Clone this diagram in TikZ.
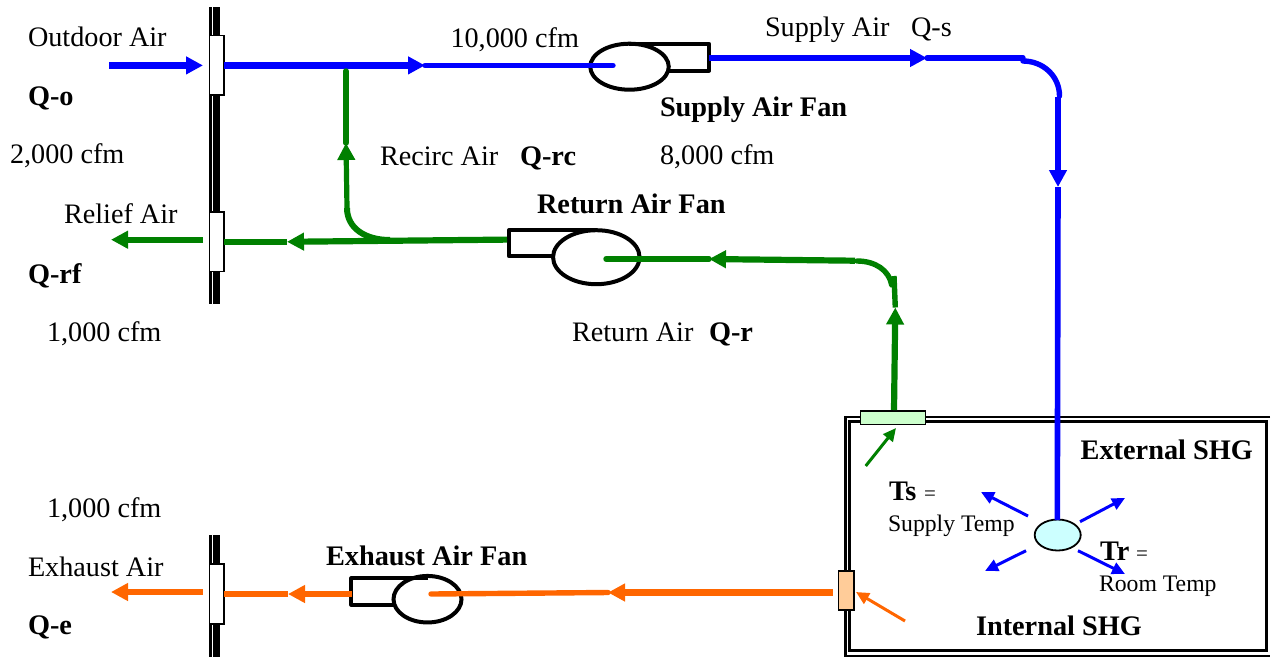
\documentclass[tikz,border=0pt]{standalone}
\usepackage{fontspec}
\setmainfont{Liberation Serif}
\usetikzlibrary{arrows.meta,shapes.geometric}
\definecolor{airblue}{HTML}{0000FF}
\definecolor{airgreen}{HTML}{008000}
\definecolor{airorange}{HTML}{FF6600}
\definecolor{dampgreen}{HTML}{CCFFCC}
\definecolor{damporange}{HTML}{FFCC99}
\definecolor{diffuser}{HTML}{CCFFFF}
\tikzset{
  lbl/.style={anchor=base west,inner sep=0,outer sep=0,font=\fontsize{28.2}{30}\selectfont},
  blbl/.style={lbl,font=\fontsize{28.3}{30}\selectfont\bfseries},
  slbl/.style={lbl,font=\fontsize{23.7}{26}\selectfont},
  eqlbl/.style={lbl,font=\fontsize{21}{24}\selectfont},
  damper/.style={draw=black,line width=1.6pt,fill=white,rectangle,inner sep=0,outer sep=0,minimum width=14.5pt,minimum height=59.5pt},
  fan/.style={draw=black,line width=4pt,ellipse,inner sep=0,outer sep=0},
  fanbox/.style={draw=black,line width=4pt,line join=round},
  thin duct/.style={line width=5.4pt,line cap=round},
  flow/.style={line width=6.2pt,-{Triangle[length=17pt,width=17pt]}},
  spread/.style={line width=3pt,-{Triangle[length=13pt,width=12pt]}},
}
\begin{document}
\begin{tikzpicture}[x=1pt,y=-1pt]
\useasboundingbox (0,0) rectangle (1276,657);
% walls
\draw[line width=2.6pt] (210.6,7) -- (210.6,304);
\draw[line width=6.7pt] (216.6,7) -- (216.6,304);
\draw[line width=2.6pt] (210.6,535) -- (210.6,657);
\draw[line width=6.7pt] (216.6,535) -- (216.6,657);
% room
\draw[line width=2.2pt] (1270,417.3) -- (845.5,417.3) -- (845.5,656) -- (1270,656);
\draw[line width=3.3pt] (849.5,421.5) rectangle (1266.7,650.8);
% dampers
\node[damper] (dO) at (216.7,65.4) {};
\node[damper] (dR) at (216.7,241.7) {};
\node[damper] (dE) at (216.7,594) {};
\node[damper,fill=dampgreen,minimum width=65pt,minimum height=13.5pt] (dG) at (893,417.8) {};
\node[damper,fill=damporange,minimum width=15.5pt,minimum height=38.5pt] (dX) at (846.2,590.5) {};
% fans
\node[fan,minimum width=78.5pt,minimum height=46pt] (fS) at (629.5,66.7) {};
\node[fan,minimum width=86.5pt,minimum height=54pt] (fR) at (596.3,257.2) {};
\node[fan,minimum width=68pt,minimum height=46.5pt] (fE) at (427.5,599.2) {};
\draw[fanbox] (629,43.8) -- (709,43.8) -- (709,70.6) -- (669,70.6);
\draw[fanbox] (596,230.2) -- (509,230.2) -- (509,256.2) -- (553,256.2);
\draw[fanbox] (428,578.2) -- (351.4,578.2) -- (351.4,604.6) -- (394,604.6);
% diffuser
\node[draw=black,line width=1.8pt,fill=diffuser,ellipse,inner sep=0,outer sep=0,minimum width=46pt,minimum height=31pt] (diff) at (1057.7,535) {};
% named points
\coordinate (oa) at (109,65.4);
\coordinate (oatip) at (203,65.4);
\coordinate (j1) at (425,65.4);
\coordinate (fSc) at (613,65.4);
\coordinate (s0) at (709,58);
\coordinate (s1) at (927,58);
\coordinate (s2) at (1023,58);
\coordinate (s3) at (1023,61);
\coordinate (s4) at (1059.5,96);
\coordinate (s5) at (1058,97);
\coordinate (s6) at (1058,187);
\coordinate (s7) at (1057.3,520);
\coordinate (rc0) at (346,71);
\coordinate (rc1) at (346,143);
\coordinate (rc2) at (347,208);
\coordinate (rc3) at (390,240);
\coordinate (rfa) at (507,239.6);
\coordinate (rfb) at (287,241.8);
\coordinate (rl0) at (203,239.7);
\coordinate (rl1) at (111,239.7);
\coordinate (ru0) at (894,410);
\coordinate (ru0b) at (895.3,323);
\coordinate (ru1) at (895.3,307.5);
\coordinate (ru2) at (894,276);
\coordinate (ru3) at (857,261);
\coordinate (ru4) at (855,260.7);
\coordinate (ru5) at (709,259);
\coordinate (fRc) at (606,259);
\coordinate (ex0) at (833,592.5);
\coordinate (ex1) at (608,592.5);
\coordinate (fEc) at (431,594);
\coordinate (ex2) at (352,594);
\coordinate (ex3) at (288,594);
\coordinate (el0) at (203,592);
\coordinate (el1) at (111,592);
% supply side
\draw[airblue,flow] (oa) -- (oatip);
\draw[airblue,flow] (dO.east) -- (j1);
\draw[airblue,thin duct] (j1) -- (fSc);
\draw[airblue,flow] (s0) -- (s1);
\draw[airblue,thin duct] (s1) -- (s2);
\draw[airblue,thin duct] (s3) .. controls (1043,61) and (1059.5,76) .. (s4);
\draw[airblue,flow] (s5) -- (s6);
\draw[airblue,line width=5.6pt] (s6) -- (s7);
% recirc
\draw[airgreen,thin duct] (rc0) -- (rc1);
\draw[airgreen,flow,line width=5.2pt] (rc2) -- (rc1);
\draw[airgreen,line width=6pt] (rc2) .. controls (347,228) and (365,240) .. (rc3);
% return
\draw[airgreen,flow] (rfa) -- (rfb);
\draw[airgreen,line width=5.6pt] (rfb) -- (dR.east |- rfb);
\draw[airgreen,flow] (rl0) -- (rl1);
\draw[airgreen,flow] (ru0) -- (ru1);
\draw[airgreen,line width=5.4pt] (ru1) -- (ru2);
\draw[airgreen,line width=5.4pt,line cap=round] (891.7,285) .. controls (889,270) and (875,261) .. (ru3);
\draw[airgreen,flow] (ru4) -- (ru5);
\draw[airgreen,thin duct] (ru5) -- (fRc);
% exhaust
\draw[airorange,flow] (ex0) -- (ex1);
\draw[airorange,thin duct] (ex1) -- (fEc);
\draw[airorange,flow] (ex2) -- (ex3);
\draw[airorange,line width=5.6pt] (ex3) -- (dE.east |- ex3);
\draw[airorange,flow] (el0) -- (el1);
% room arrows
\coordinate (a1) at (1028,516); \coordinate (a1t) at (981,492);
\coordinate (a2) at (1080,521.7); \coordinate (a2t) at (1125,498);
\coordinate (a3) at (1026,550.7); \coordinate (a3t) at (985,571);
\coordinate (a4) at (1078,550.7); \coordinate (a4t) at (1125,574);
\coordinate (g0) at (865.7,466); \coordinate (g1) at (896,428);
\coordinate (o0) at (905,621); \coordinate (o1) at (856,592);
\draw[airblue,spread] (a1) -- (a1t);
\draw[airblue,spread] (a2) -- (a2t);
\draw[airblue,spread] (a3) -- (a3t);
\draw[airblue,spread] (a4) -- (a4t);
\draw[airgreen,spread] (g0) -- (g1);
\draw[airorange,spread] (o0) -- (o1);
% labels
\node[lbl] (t1) at (28,46.5) {Outdoor Air};
\node[blbl] (t2) at (28,105.3) {Q-o};
\node[lbl] (t3) at (10,163.5) {2,000 cfm};
\node[lbl] (t4) at (64,223) {Relief Air};
\node[blbl] (t5) at (28,283) {Q-rf};
\node[lbl] (t6) at (47,341) {1,000 cfm};
\node[lbl] (t7) at (450.5,47) {10,000 cfm};
\node[lbl] (t8) at (765,36.3) {Supply Air};
\node[lbl] (t9) at (911,36.3) {Q-s};
\node[blbl] (t10) at (660,116) {Supply Air Fan};
\node[lbl] (t11) at (380,165.3) {Recirc Air};
\node[blbl] (t12) at (520,165.3) {Q-rc};
\node[lbl] (t13) at (660,164) {8,000 cfm};
\node[blbl] (t14) at (537,213) {Return Air Fan};
\node[lbl] (t15) at (572,341) {Return Air};
\node[blbl] (t16) at (709,341) {Q-r};
\node[blbl] (t17) at (1080.7,459) {External SHG};
\node[blbl] (t18) at (889,500.7) {Ts};
\node[eqlbl] (t19) at (924,500.7) {=};
\node[slbl] (t20) at (888,531) {Supply Temp};
\node[blbl] (t21) at (1100,560) {Tr};
\node[eqlbl] (t22) at (1136,560) {=};
\node[slbl] (t23) at (1099,591) {Room Temp};
\node[blbl] (t24) at (976,635) {Internal SHG};
\node[lbl] (t25) at (47,517) {1,000 cfm};
\node[lbl] (t26) at (28,576) {Exhaust Air};
\node[blbl] (t27) at (28,634.3) {Q-e};
\node[blbl] (t28) at (326,565) {Exhaust Air Fan};
\end{tikzpicture}
\end{document}
